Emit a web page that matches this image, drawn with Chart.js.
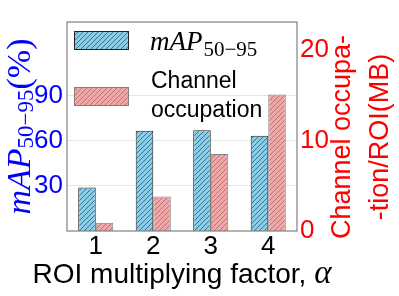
<!DOCTYPE html>
<html>
<head>
<meta charset="utf-8">
<script src="https://cdn.jsdelivr.net/npm/chart.js@4.4.1/dist/chart.umd.min.js"></script>
<style>
  html, body { margin: 0; padding: 0; background: #fff; }
  #wrap { width: 399px; height: 296px; }
</style>
</head>
<body>
<div id="wrap"><canvas id="chart" width="399" height="296"></canvas></div>
<script>
// ── Data ─────────────────────────────────────
const factors      = ['1', '2', '3', '4'];
const mapValues    = [29, 66.7, 67, 63.3];     // mAP 50-95 (%)
const channelMB    = [0.9, 3.8, 8.5, 15.1];    // channel occupation / ROI (MB)
const leftTicks    = [30, 60, 90];
const rightTicks   = [0, 10, 20];

// ── Styles ───────────────────────────────────
const SANS  = '"Liberation Sans", Arial, sans-serif';
const SERIF = '"Liberation Serif", "Times New Roman", serif';
const BLUE_FILL = '#87ceeb';
const RED_FILL  = '#f4a6a6';

function hatch(fill, line) {
  const s = 5;
  const c = document.createElement('canvas');
  c.width = s; c.height = s;
  const g = c.getContext('2d');
  g.fillStyle = fill;
  g.fillRect(0, 0, s, s);
  g.strokeStyle = line;
  g.lineWidth = 1;
  g.beginPath();
  g.moveTo(0, s);      g.lineTo(s, 0);
  g.moveTo(-1, 1);     g.lineTo(1, -1);
  g.moveTo(s - 1, s + 1); g.lineTo(s + 1, s - 1);
  g.stroke();
  return g.createPattern(c, 'repeat');
}

const bluePat = hatch(BLUE_FILL, 'rgba(30,50,60,0.6)');
const redPat  = hatch(RED_FILL, 'rgba(110,90,90,0.55)');

// draw a row of text runs, centred on x (in the current transform)
function runs(ctx, parts, x, y) {
  let w = 0;
  parts.forEach(p => { ctx.font = p.font; w += ctx.measureText(p.t).width; });
  let cx = x - w / 2;
  parts.forEach(p => {
    ctx.font = p.font;
    ctx.fillText(p.t, cx, y + (p.dy || 0));
    cx += ctx.measureText(p.t).width;
  });
}

const decor = {
  id: 'decor',
  afterDraw(chart) {
    const { ctx, chartArea: a } = chart;
    ctx.save();

    // frame
    ctx.strokeStyle = '#808080';
    ctx.lineWidth = 1.2;
    ctx.strokeRect(a.left, a.top, a.right - a.left, a.bottom - a.top);

    ctx.textBaseline = 'alphabetic';
    ctx.textAlign = 'left';

    // legend
    const items = [
      { pat: bluePat, edge: '#222', y: 31 },
      { pat: redPat,  edge: '#808080', y: 87 },
    ];
    items.forEach(it => {
      ctx.fillStyle = it.pat;
      ctx.fillRect(a.left + 7, it.y, 55, 19);
      ctx.strokeStyle = it.edge;
      ctx.lineWidth = 1;
      ctx.strokeRect(a.left + 7.5, it.y + 0.5, 54, 18);
    });
    ctx.fillStyle = '#000';
    ctx.font = 'italic 27px ' + SERIF;
    ctx.fillText('mAP', 150, 50);
    let w = ctx.measureText('mAP').width;
    ctx.font = '21px ' + SERIF;
    ctx.fillText('50\u221295', 150 + w + 1, 56);
    ctx.font = '23px ' + SANS;
    ctx.fillText('Channel', 151, 88);
    ctx.fillText('occupation', 151, 117);

    // x title
    const cx = (a.left + a.right) / 2;
    runs(ctx, [
      { t: 'ROI multiplying factor, ', font: '28px ' + SANS },
      { t: '\u03b1', font: 'italic 33px ' + SERIF },
    ], cx, 283);

    // left y title
    ctx.save();
    ctx.translate(30, (a.top + a.bottom) / 2);
    ctx.rotate(-Math.PI / 2);
    ctx.fillStyle = '#0000ff';
    runs(ctx, [
      { t: 'mAP', font: 'italic 34px ' + SERIF },
      { t: '50\u221295', font: '23px ' + SERIF, dy: 3 },
      { t: '(%)', font: '34px ' + SERIF },
    ], 0, 0);
    ctx.restore();

    // right y title
    ctx.save();
    ctx.translate(350, 137);
    ctx.rotate(-Math.PI / 2);
    ctx.fillStyle = '#ff0000';
    ctx.textAlign = 'center';
    ctx.font = '27px ' + SANS;
    ctx.fillText('Channel occupa-', 0, 0);
    ctx.fillText('-tion/ROI(MB)', 0, 38);
    ctx.restore();

    ctx.restore();
  }
};

new Chart(document.getElementById('chart'), {
  type: 'bar',
  data: {
    labels: factors,
    datasets: [
      {
        label: 'mAP50-95',
        data: mapValues,
        yAxisID: 'yL',
        backgroundColor: bluePat,
        borderColor: '#222',
        borderWidth: 1,
      },
      {
        label: 'Channel occupation',
        data: channelMB,
        yAxisID: 'yR',
        backgroundColor: redPat,
        borderColor: '#808080',
        borderWidth: 1,
      },
    ],
  },
  options: {
    responsive: false,
    animation: false,
    devicePixelRatio: 1,
    categoryPercentage: 0.61,
    barPercentage: 1.0,
    layout: { padding: { top: 22 } },
    plugins: { legend: { display: false }, tooltip: { enabled: false } },
    scales: {
      x: {
        grid: { display: false, drawTicks: false },
        border: { display: false },
        ticks: { color: '#000', font: { family: SANS, size: 26 }, padding: 0 },
        afterFit: s => { s.height = 65; },
      },
      yL: {
        position: 'left',
        min: 0,
        max: 139,
        afterBuildTicks: s => { s.ticks = leftTicks.map(v => ({ value: v })); },
        grid: { color: '#e6e6e6', drawTicks: false },
        border: { display: false },
        ticks: { color: '#0000ff', font: { family: SANS, size: 26 }, padding: 4 },
        afterFit: s => { s.width = 67; },
      },
      yR: {
        position: 'right',
        min: 0,
        max: 23.1,
        afterBuildTicks: s => { s.ticks = rightTicks.map(v => ({ value: v })); },
        grid: { display: false, drawTicks: false },
        border: { display: false },
        ticks: { color: '#ff0000', font: { family: SANS, size: 26 }, padding: 3 },
        afterFit: s => { s.width = 102; },
      },
    },
  },
  plugins: [decor],
});
</script>
</body>
</html>
